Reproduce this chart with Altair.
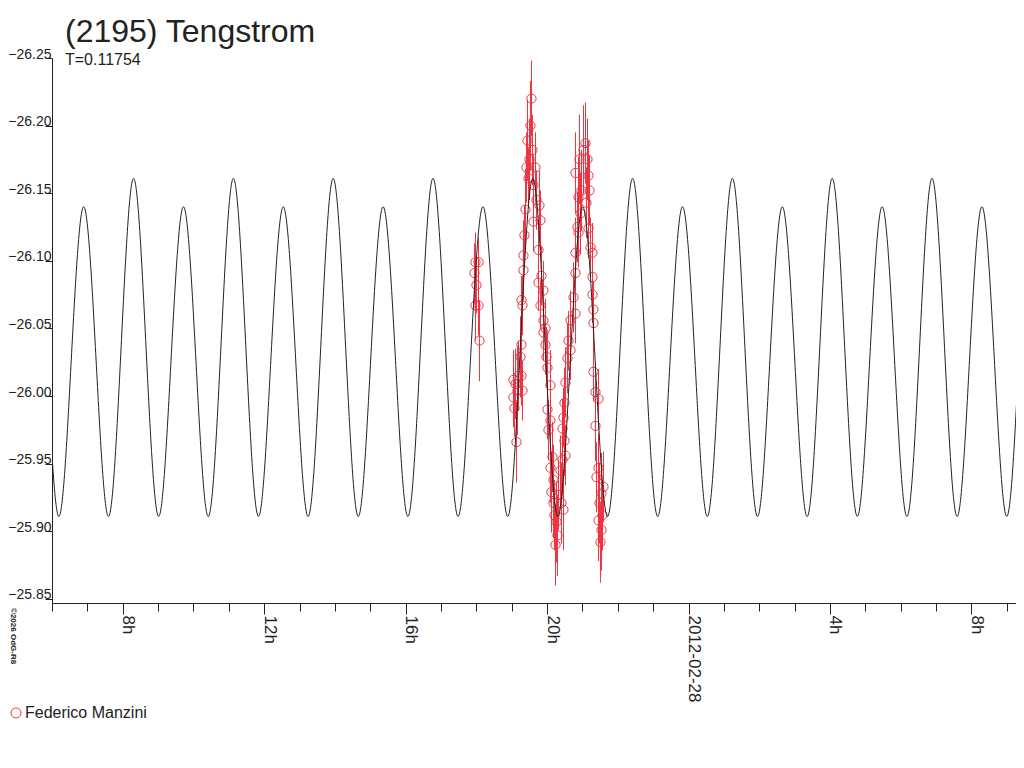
import altair as alt
import pandas as pd

TITLE = "(2195) Tengstrom"
SUBTITLE = "T=0.11754"
OBSERVER = "Federico Manzini"
COPYRIGHT = "©2026 OdG-R8"

# fitted light curve, sampled at quarter-hump points (hours since 2012-02-27 00:00)
curve_hour = [5.837, 6.190, 6.543, 6.896, 7.248, 7.601, 7.954, 8.307, 8.659, 9.012,
              9.365, 9.718, 10.071, 10.423, 10.776, 11.129, 11.482, 11.835, 12.187, 12.540,
              12.893, 13.246, 13.599, 13.951, 14.304, 14.657, 15.010, 15.363, 15.715, 16.068,
              16.421, 16.774, 17.127, 17.479, 17.832, 18.185, 18.538, 18.891, 19.243, 19.596,
              19.949, 20.302, 20.655, 21.007, 21.360, 21.713, 22.066, 22.419, 22.771, 23.124,
              23.477, 23.830, 24.183, 24.535, 24.888, 25.241, 25.594, 25.947, 26.299, 26.652,
              27.005, 27.358, 27.711, 28.063, 28.416, 28.769, 29.122, 29.475, 29.827, 30.180,
              30.533, 30.886, 31.239, 31.591, 31.944, 32.297, 32.650, 33.003, 33.355, 33.708,
              34.061]
curve_mag = [-26.036, -25.911, -26.026, -26.140, -26.026, -25.911, -26.036, -26.161,
             -26.036, -25.911, -26.026, -26.140, -26.026, -25.911, -26.036, -26.161,
             -26.036, -25.911, -26.026, -26.140, -26.026, -25.911, -26.036, -26.161,
             -26.036, -25.911, -26.026, -26.140, -26.026, -25.911, -26.036, -26.161,
             -26.036, -25.911, -26.026, -26.140, -26.026, -25.911, -26.036, -26.161,
             -26.036, -25.911, -26.026, -26.140, -26.026, -25.911, -26.036, -26.161,
             -26.036, -25.911, -26.026, -26.140, -26.026, -25.911, -26.036, -26.161,
             -26.036, -25.911, -26.026, -26.140, -26.026, -25.911, -26.036, -26.161,
             -26.036, -25.911, -26.026, -26.140, -26.026, -25.911, -26.036, -26.161,
             -26.036, -25.911, -26.026, -26.140, -26.026, -25.911, -26.036, -26.161,
             -26.036]

# observations (Federico Manzini)
obs_hour = [17.975, 18.060, 17.947, 18.003, 17.975, 18.060, 18.088,
            19.050, 19.106, 19.050, 19.078, 19.134, 19.163, 19.191, 19.248, 19.276, 19.304,
            19.276, 19.304, 19.276, 19.332, 19.332, 19.361, 19.389, 19.417, 19.446, 19.474,
            19.559, 19.502, 19.530, 19.587, 19.615, 19.672, 19.615, 19.700, 19.785, 19.813,
            19.757, 19.842, 19.757, 19.898, 19.813, 19.898, 19.955, 19.898, 19.955, 19.983,
            20.011, 20.096, 20.011, 20.096, 20.040, 20.153, 20.096, 20.181, 20.124, 20.181,
            20.209, 20.266, 20.238, 20.294, 20.322, 20.379, 20.407, 20.436, 20.464, 20.492,
            20.520, 20.436, 20.464, 20.492, 20.520, 20.577, 20.605, 20.662, 20.662, 20.747,
            20.803, 20.803, 20.803, 20.860, 20.888, 20.888, 20.945, 20.803, 20.916, 20.973,
            21.030, 21.086, 21.143, 21.171, 21.114, 21.199, 21.171, 21.228, 21.284, 21.284,
            21.284, 21.312, 21.312, 21.312, 21.369, 21.454, 21.369, 21.454, 21.397, 21.595,
            21.539, 21.482, 21.454, 21.539, 21.510, 21.567]
obs_mag = [-26.099, -26.099, -26.091, -26.082, -26.067, -26.067, -26.041,
           -26.012, -26.009, -25.999, -25.991, -25.966, -26.004, -26.015, -26.029, -26.015, -26.004,
           -26.038, -26.067, -26.071, -26.093, -26.104, -26.119, -26.138, -26.169, -26.189, -26.161,
           -26.220, -26.175, -26.200, -26.182, -26.156, -26.169, -26.129, -26.145, -26.141, -26.130,
           -26.108, -26.089, -26.084, -26.078, -26.067, -26.056, -26.050, -26.047, -26.038, -26.029,
           -26.021, -26.008, -25.990, -25.982, -25.975, -25.955, -25.947, -25.938, -25.929, -25.921,
           -25.912, -25.907, -25.890, -25.897, -25.927, -25.945, -25.921, -25.953, -25.916, -25.967,
           -25.956, -25.976, -25.984, -25.995, -26.010, -26.028, -26.041, -26.034, -26.056, -26.073,
           -26.061, -26.091, -26.106, -26.125, -26.121, -26.147, -26.135, -26.165, -26.175, -26.152,
           -26.182, -26.187, -26.175, -26.163, -26.143, -26.152, -26.124, -26.110, -26.106, -26.088,
           -26.075, -26.064, -26.054, -26.018, -26.003, -25.998, -25.978, -25.947, -25.940, -25.933,
           -25.928, -25.921, -25.908, -25.901, -25.892, -25.912]
obs_err = [0.022, 0.018, 0.022, 0.021, 0.026, 0.022, 0.030,
           0.022, 0.026, 0.022, 0.021, 0.030, 0.033, 0.026, 0.030, 0.022, 0.022,
           0.026, 0.022, 0.018, 0.022, 0.026, 0.022, 0.030, 0.026, 0.030, 0.022,
           0.028, 0.030, 0.033, 0.026, 0.022, 0.026, 0.022, 0.022, 0.026, 0.022,
           0.022, 0.022, 0.021, 0.022, 0.018, 0.022, 0.022, 0.021, 0.022, 0.022,
           0.026, 0.026, 0.022, 0.026, 0.022, 0.026, 0.026, 0.026, 0.030, 0.026,
           0.026, 0.030, 0.030, 0.030, 0.026, 0.026, 0.030, 0.026, 0.030, 0.026,
           0.022, 0.022, 0.022, 0.026, 0.026, 0.026, 0.022, 0.022, 0.022, 0.026,
           0.022, 0.026, 0.026, 0.026, 0.026, 0.030, 0.030, 0.030, 0.033, 0.030,
           0.033, 0.030, 0.030, 0.026, 0.026, 0.026, 0.022, 0.022, 0.022, 0.022,
           0.021, 0.021, 0.022, 0.022, 0.022, 0.022, 0.026, 0.026, 0.026, 0.026,
           0.030, 0.030, 0.030, 0.030, 0.030, 0.026]

y_ticks = [-26.25, -26.20, -26.15, -26.10, -26.05, -26.00, -25.95, -25.90, -25.85]
x_major = [8, 12, 16, 20, 24, 28, 32]
x_minor = [6, 7, 8, 9, 10, 11, 12, 13, 14, 15, 16, 17, 18, 19, 20, 21, 22, 23, 24,
           25, 26, 27, 28, 29, 30, 31, 32, 33]
x_domain = [6.0, 33.26]
y_domain = [-26.25, -25.847]

RED = "#ee3340"
INK = "#222222"
FONT = "Liberation Sans"

curve_df = pd.DataFrame({"hour": curve_hour, "mag": curve_mag})
obs_df = pd.DataFrame({"hour": obs_hour, "mag": obs_mag, "err": obs_err})
obs_df["observer"] = OBSERVER
obs_df["lo"] = obs_df["mag"] - obs_df["err"]
obs_df["hi"] = obs_df["mag"] + obs_df["err"]
note_df = pd.DataFrame({"t": [COPYRIGHT]})

x_scale = alt.Scale(domain=x_domain, nice=False, zero=False)
y_scale = alt.Scale(domain=y_domain, reverse=True, nice=False, zero=False)

y_axis = alt.Axis(values=y_ticks, format=".2f", title=None, grid=False, tickSize=7,
                  labelPadding=-6, labelBaseline="alphabetic", labelAlign="right",
                  labelFontSize=14, labelFlush=False, labelOverlap=False,
                  labels=True, ticks=True, domain=True,
                  labelColor=INK, domainColor=INK, tickColor=INK, labelFont=FONT)

major_axis = alt.Axis(orient="bottom", values=x_major, title=None, grid=False, tickSize=11,
                      labelAngle=90, labelAlign="left", labelBaseline="alphabetic",
                      labelPadding=1, labelFontSize=17, labelFlush=False, labelOverlap=False,
                      labels=True, ticks=True, domain=True,
                      labelExpr="datum.value == 24 ? '2012-02-28' : (datum.value % 24) + 'h'",
                      labelColor=INK, domainColor=INK, tickColor=INK, labelFont=FONT)

minor_axis = alt.Axis(orient="bottom", values=x_minor, title=None, grid=False, tickSize=8,
                      labels=False, domain=False, ticks=True, tickColor=INK)

bars = alt.Chart(obs_df).mark_rule(color=RED, strokeWidth=1, opacity=1).encode(
    x=alt.X("hour:Q", scale=x_scale, axis=minor_axis),
    y=alt.Y("lo:Q", scale=y_scale, axis=y_axis),
    y2="hi:Q",
)

points = alt.Chart(obs_df).mark_point(shape="circle", filled=False, size=85,
                                       strokeWidth=1, opacity=1).encode(
    x=alt.X("hour:Q", scale=x_scale, axis=None),
    y=alt.Y("mag:Q", scale=y_scale, axis=y_axis),
    color=alt.Color("observer:N", scale=alt.Scale(range=[RED]),
                    legend=alt.Legend(title=None, orient="none", legendX=-44, legendY=647,
                                      symbolType="circle", symbolSize=100,
                                      symbolStrokeWidth=1, labelFontSize=16,
                                      labelColor=INK, labelFont=FONT, padding=0,
                                      symbolOffset=0, labelOffset=1)),
)

curve = alt.Chart(curve_df).mark_line(color=INK, strokeWidth=1, interpolate="natural",
                                      clip=True).encode(
    x=alt.X("hour:Q", scale=x_scale, axis=major_axis),
    y=alt.Y("mag:Q", scale=y_scale, axis=y_axis),
)

note = alt.Chart(note_df).mark_text(angle=90, align="left", baseline="middle", fontSize=8,
                                    fontWeight="bold", color=INK, font=FONT).encode(
    x=alt.value(-39), y=alt.value(550), text="t:N"
)

chart = alt.layer(bars, points, curve, note).resolve_axis(x="independent").properties(
    width=964,
    height=545,
    padding={"left": 44, "top": 50, "right": 0, "bottom": 125},
    autosize=alt.AutoSizeParams(type="none"),
    title=alt.TitleParams(text=TITLE, subtitle=SUBTITLE, anchor="start", frame="group",
                          fontSize=32, fontWeight="normal", color=INK, font=FONT,
                          subtitleFontSize=16, subtitleColor=INK, subtitleFont=FONT,
                          subtitlePadding=3, offset=-22, dx=13),
).configure(background="white").configure_view(
    stroke="transparent", strokeWidth=0
).configure_axis(grid=False)

chart.save("out.html", embed_options={"renderer": "svg", "actions": False})
